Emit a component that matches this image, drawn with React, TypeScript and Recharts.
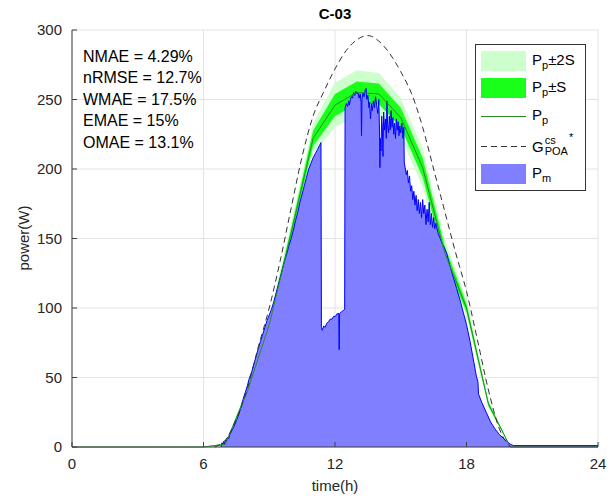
import React from "react";
import { Area, CartesianGrid, ComposedChart, Line, XAxis, YAxis } from "recharts";

// hourly forecast and its spread
const hours = [0, 1, 2, 3, 4, 5, 6, 7, 8, 9, 10, 11, 12, 13, 14, 15, 16, 17, 18, 19, 20, 21, 22, 23, 24];
const predicted = [0, 0, 0, 0, 0, 0, 0, 2, 40, 88, 154, 222, 246, 255, 254, 237, 201, 140, 100, 31, 0, 0, 0, 0, 0];
const spread = [0, 0, 0, 0, 0, 0, 0, 0.5, 1.5, 2.5, 3.5, 5.5, 8, 8, 7.5, 7, 7, 5, 3, 1.5, 0, 0, 0, 0, 0];

// clear-sky POA reference
const clearTime = [6.5, 7, 7.5, 8, 8.5, 9, 9.5, 10, 10.5, 11, 11.5, 12, 12.5, 13, 13.5, 14, 14.5, 15, 15.5, 16, 16.5, 17, 17.5, 18, 18.5, 19, 19.5, 20];
const clearPower = [0, 5, 20, 42, 72, 100, 134, 172, 209, 238, 256, 272, 285, 293, 296, 292, 283, 270, 254, 230, 200, 170, 140, 112, 77, 41, 13, 0];

// measured power
const measTime = [
  6.8, 6.84, 6.88, 6.92, 6.96, 7.0, 7.05, 7.1, 7.15, 7.2, 7.3, 7.4, 7.5, 7.6, 7.7, 7.8, 7.9, 8.0, 8.1, 8.2,
  8.3, 8.4, 8.5, 8.6, 8.7, 8.8, 8.9, 9.0, 9.1, 9.2, 9.3, 9.4, 9.5, 9.6, 9.7, 9.8, 9.9, 10.0, 10.1, 10.2,
  10.3, 10.4, 10.5, 10.6, 10.7, 10.8, 10.9, 11.0, 11.1, 11.2, 11.3, 11.36, 11.38, 11.42, 11.48, 11.55, 11.62, 11.7, 11.78, 11.86,
  11.94, 12.02, 12.1, 12.17, 12.19, 12.21, 12.28, 12.36, 12.44, 12.46, 12.52, 12.58, 12.62, 12.66, 12.7, 12.75, 12.8, 12.85, 12.9, 12.95,
  13.0, 13.05, 13.1, 13.15, 13.19, 13.21, 13.23, 13.28, 13.33, 13.38, 13.42, 13.45, 13.5, 13.55, 13.58, 13.62, 13.66, 13.7, 13.75, 13.8,
  13.85, 13.9, 13.95, 14.0, 14.03, 14.05, 14.07, 14.1, 14.13, 14.16, 14.19, 14.22, 14.26, 14.3, 14.34, 14.37, 14.4, 14.44, 14.48, 14.52,
  14.56, 14.6, 14.64, 14.68, 14.72, 14.76, 14.8, 14.84, 14.88, 14.92, 14.96, 15.0, 15.05, 15.1, 15.14, 15.16, 15.2, 15.25, 15.3, 15.35,
  15.4, 15.45, 15.5, 15.55, 15.6, 15.65, 15.7, 15.75, 15.8, 15.85, 15.9, 15.95, 16.0, 16.05, 16.1, 16.15, 16.2, 16.25, 16.3, 16.35,
  16.4, 16.45, 16.5, 16.55, 16.6, 16.7, 16.8, 16.9, 17.0, 17.1, 17.25, 17.4, 17.55, 17.7, 17.85, 18.0, 18.15, 18.3, 18.45, 18.52,
  18.55, 18.7, 18.9, 19.1, 19.3, 19.5, 19.7, 19.85, 20.0, 20.15, 24,
];
const measPower = [
  0, 3, 2, 4, 2, 5, 4, 7, 6, 9, 12, 15, 19, 23, 28, 34, 39, 44, 50, 54,
  60, 65, 71, 76, 81, 86, 91, 95, 99, 104, 110, 116, 122, 128, 134, 139, 145, 150, 156, 163,
  169, 176, 182, 188, 194, 200, 204, 208, 211, 214, 217, 219, 86, 84, 87, 86, 89, 90, 92, 92,
  94, 94, 96, 96, 70, 96, 97, 98, 99, 244, 247, 245, 249, 246, 250, 252, 251, 255, 253, 256,
  254, 255, 251, 254, 248, 224, 250, 255, 252, 257, 258, 250, 253, 244, 248, 236, 247, 242, 249, 244,
  252, 246, 240, 250, 228, 201, 222, 213, 238, 230, 209, 241, 228, 236, 222, 249, 232, 226, 238, 228,
  242, 230, 237, 225, 233, 222, 236, 228, 234, 224, 231, 226, 233, 222, 230, 205, 201, 196, 199, 190,
  195, 184, 188, 178, 184, 174, 181, 170, 178, 168, 176, 165, 178, 168, 174, 160, 171, 162, 176, 160,
  168, 158, 165, 157, 161, 154, 150, 146, 143, 139, 130, 122, 114, 106, 97, 88, 77, 64, 51, 47,
  38, 32, 25, 18, 13, 9, 6, 4, 2, 1, 1,
];

const hourTicks = [0, 6, 12, 18, 24];
const powerTicks = [0, 50, 100, 150, 200, 250, 300];
const metrics = ["NMAE = 4.29%", "nRMSE = 12.7%", "WMAE = 17.5%", "EMAE = 15%", "OMAE = 13.1%"];

const bandData = hours.map((t, i) => ({
  t,
  pp: predicted[i],
  one: [predicted[i] - spread[i], predicted[i] + spread[i]],
  two: [predicted[i] - 2 * spread[i], predicted[i] + 2 * spread[i]],
}));
const clearData = clearTime.map((t, i) => ({ t, g: clearPower[i] }));
const measData = measTime.map((t, i) => ({ t, pm: measPower[i] }));

const font = "Arial, 'Liberation Sans', Helvetica, sans-serif";
const ink = "#262626";
const sub = { fontSize: 11, verticalAlign: "-4px" } as const;

function LegendRow({ top, swatch, children }: { top: number; swatch: React.ReactNode; children: React.ReactNode }) {
  return (
    <div style={{ position: "absolute", left: 5, top, height: 20, display: "flex", alignItems: "center" }}>
      <div style={{ width: 45, height: 20, display: "flex", alignItems: "center" }}>{swatch}</div>
      <span style={{ marginLeft: 6, fontSize: 15, color: "#000", whiteSpace: "nowrap" }}>{children}</span>
    </div>
  );
}

export default function App() {
  return (
    <div style={{ position: "absolute", left: 0, top: 0, width: 616, height: 499, background: "#fff", fontFamily: font }}>
      <ComposedChart width={616} height={499} margin={{ top: 30, right: 18, bottom: 0, left: 0 }}>
        <CartesianGrid stroke="#e3e3e3" />
        <XAxis
          dataKey="t"
          type="number"
          domain={[0, 24]}
          ticks={hourTicks}
          height={52}
          tickSize={-5}
          tickMargin={16}
          stroke="#404040"
          tick={{ fill: ink, fontSize: 15, fontFamily: font }}
        />
        <XAxis xAxisId="top" orientation="top" type="number" domain={[0, 24]} ticks={hourTicks} height={0} tickSize={-5} tick={false} stroke="#404040" />
        <YAxis
          type="number"
          domain={[0, 300]}
          ticks={powerTicks}
          width={72}
          tickSize={-5}
          tickMargin={15}
          stroke="#404040"
          tick={{ fill: ink, fontSize: 15, fontFamily: font }}
        />
        <YAxis yAxisId="right" orientation="right" type="number" domain={[0, 300]} ticks={powerTicks} width={0} tickSize={-5} tick={false} stroke="#404040" />

        <Area data={bandData} dataKey="two" type="linear" fill="#ccffcc" fillOpacity={1} stroke="none" isAnimationActive={false} />
        <Area data={bandData} dataKey="one" type="linear" fill="#19ff19" fillOpacity={1} stroke="none" isAnimationActive={false} />
        <Line data={bandData} dataKey="pp" type="linear" stroke="#2a8a2a" strokeWidth={1} dot={false} activeDot={false} isAnimationActive={false} />
        <Line data={clearData} dataKey="g" type="monotone" stroke="#333" strokeWidth={1} strokeDasharray="6 4" dot={false} activeDot={false} isAnimationActive={false} />
        <Area data={measData} dataKey="pm" type="linear" fill="#7f7fff" fillOpacity={1} stroke="#0000ff" strokeWidth={1} isAnimationActive={false} />
      </ComposedChart>

      <div style={{ position: "absolute", left: 72, width: 526, top: 5, textAlign: "center", fontWeight: "bold", fontSize: 15, color: "#000" }}>C-03</div>
      <div style={{ position: "absolute", left: 72, width: 526, top: 477, textAlign: "center", fontSize: 15, color: ink }}>time(h)</div>
      <div
        style={{
          position: "absolute",
          left: 23,
          top: 238,
          transform: "translate(-50%, -50%) rotate(-90deg)",
          fontSize: 15,
          color: ink,
          whiteSpace: "nowrap",
        }}
      >
        power(W)
      </div>

      <div style={{ position: "absolute", left: 83, top: 46, fontSize: 16, lineHeight: "21.4px", color: "#000" }}>
        {metrics.map((m) => (
          <div key={m}>{m}</div>
        ))}
      </div>

      <div style={{ position: "absolute", left: 475, top: 44, width: 109, height: 145, border: "1px solid #333", background: "#fff" }}>
        <LegendRow top={6} swatch={<div style={{ width: 45, height: 20, background: "#ccffcc" }} />}>
          P<span style={sub}>p</span>±2S
        </LegendRow>
        <LegendRow top={33} swatch={<div style={{ width: 45, height: 20, background: "#19ff19" }} />}>
          P<span style={sub}>p</span>±S
        </LegendRow>
        <LegendRow top={61} swatch={<div style={{ width: 45, borderTop: "1px solid #2a8a2a" }} />}>
          P<span style={sub}>p</span>
        </LegendRow>
        <LegendRow
          top={91}
          swatch={
            <svg width={45} height={20}>
              <line x1={0} y1={10.5} x2={45} y2={10.5} stroke="#333" strokeWidth={1} strokeDasharray="6 4" />
            </svg>
          }
        >
          <span style={{ display: "inline-flex", alignItems: "center" }}>
            G
            <span style={{ display: "inline-flex", flexDirection: "column", fontSize: 11, lineHeight: "11px", marginLeft: 1 }}>
              <span>cs</span>
              <span>POA</span>
            </span>
            <span style={{ fontSize: 11, alignSelf: "flex-start", marginTop: -4, marginLeft: 1 }}>*</span>
          </span>
        </LegendRow>
        <LegendRow top={119} swatch={<div style={{ width: 45, height: 20, background: "#7f7fff" }} />}>
          P<span style={sub}>m</span>
        </LegendRow>
      </div>
    </div>
  );
}
